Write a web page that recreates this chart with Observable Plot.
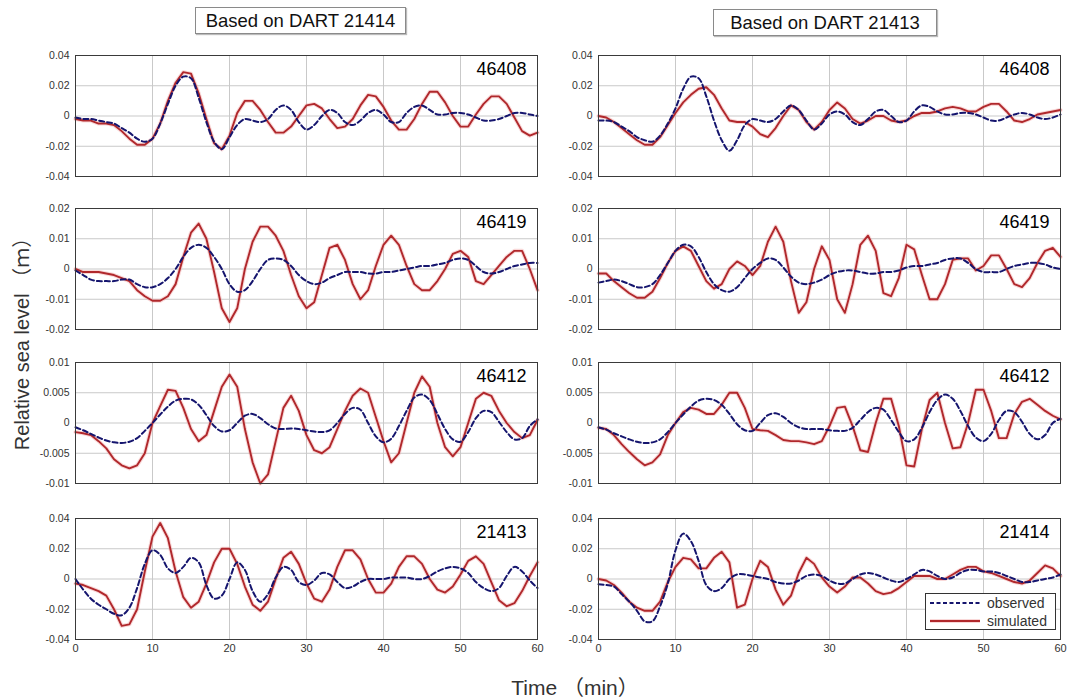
<!DOCTYPE html>
<html>
<head>
<meta charset="utf-8">
<script src="https://cdn.jsdelivr.net/npm/d3@7"></script>
<script src="https://cdn.jsdelivr.net/npm/@observablehq/plot@0.6"></script>
<style>
  html, body { margin: 0; padding: 0; background: #fff; }
  #root { position: relative; width: 1070px; height: 698px; overflow: hidden; font-family: "Liberation Sans", Arial, sans-serif; }
  .abs { position: absolute; }
  .title { border: 1px solid #8a8a8a; box-shadow: 1px 1px 1px #bbb; background: #fff; font-family: "Liberation Sans Narrow", "Liberation Sans", Arial, sans-serif; font-size: 18.5px; color: #111; text-align: center; box-sizing: border-box; }
  .legend { border: 1px solid #333; background: #fff; box-sizing: border-box; font-size: 14px; color: #333; }
</style>
</head>
<body>
<div id="root"></div>
<script>
// ---------- data ----------
const minutes = d3.range(0, 61);
const xTicks = [0, 10, 20, 30, 40, 50, 60];
const columnTitles = ["Based on DART 21414", "Based on DART 21413"];
const stationsLeft = ["46408", "46419", "46412", "21413"];
const stationsRight = ["46408", "46419", "46412", "21414"];
const yTicksRow1 = [-0.04, -0.02, 0, 0.02, 0.04];
const yTicksRow2 = [-0.02, -0.01, 0, 0.01, 0.02];
const yTicksRow3 = [-0.01, -0.005, 0, 0.005, 0.01];
const yTicksRow4 = [-0.04, -0.02, 0, 0.02, 0.04];
const seriesNames = ["observed", "simulated"];

// Row 1 — 46408
const obsL1 = [-0.001,-0.002,-0.002,-0.003,-0.004,-0.005,-0.008,-0.011,-0.015,-0.017,-0.015,-0.005,0.008,0.020,0.026,0.025,0.012,-0.004,-0.017,-0.022,-0.014,-0.006,-0.002,-0.003,-0.004,-0.002,0.004,0.007,0.004,-0.004,-0.009,-0.006,0.000,0.004,0.002,-0.004,-0.006,-0.003,0.002,0.004,0.001,-0.004,-0.004,0.002,0.006,0.007,0.004,0.001,0.001,0.002,0.002,0.001,-0.001,-0.003,-0.003,-0.002,0.000,0.002,0.002,0.001,0.000];
const simL1 = [-0.002,-0.003,-0.003,-0.005,-0.005,-0.006,-0.010,-0.015,-0.019,-0.019,-0.015,-0.005,0.010,0.022,0.029,0.028,0.015,-0.002,-0.018,-0.022,-0.013,0.002,0.010,0.010,0.004,-0.004,-0.011,-0.011,-0.007,0.000,0.007,0.008,0.005,-0.002,-0.008,-0.007,-0.002,0.007,0.014,0.013,0.006,-0.003,-0.009,-0.009,-0.002,0.008,0.016,0.016,0.009,0.000,-0.007,-0.007,0.001,0.008,0.013,0.013,0.008,-0.001,-0.010,-0.013,-0.011];
const obsR1 = [-0.003,-0.003,-0.004,-0.007,-0.010,-0.014,-0.016,-0.017,-0.013,-0.005,0.005,0.018,0.026,0.025,0.013,-0.003,-0.016,-0.023,-0.016,-0.006,-0.002,-0.003,-0.004,-0.002,0.003,0.007,0.004,-0.003,-0.009,-0.005,0.001,0.003,0.001,-0.004,-0.006,-0.002,0.003,0.004,0.000,-0.004,-0.003,0.003,0.007,0.006,0.003,0.001,0.001,0.002,0.002,0.001,-0.001,-0.003,-0.003,-0.001,0.001,0.002,0.001,-0.001,-0.002,-0.001,0.001];
const simR1 = [0.000,-0.001,-0.004,-0.008,-0.012,-0.016,-0.019,-0.019,-0.014,-0.006,0.002,0.009,0.014,0.018,0.019,0.014,0.005,-0.003,-0.004,-0.004,-0.007,-0.012,-0.014,-0.008,0.000,0.007,0.004,-0.004,-0.009,-0.004,0.004,0.009,0.005,-0.002,-0.005,-0.003,0.000,0.000,-0.003,-0.004,-0.003,0.000,0.002,0.002,0.003,0.005,0.006,0.005,0.003,0.003,0.006,0.008,0.008,0.003,-0.003,-0.004,-0.002,0.001,0.002,0.003,0.004];

// Row 2 — 46419
const obsL2 = [-0.0005,-0.002,-0.0035,-0.004,-0.004,-0.004,-0.0035,-0.0035,-0.005,-0.006,-0.006,-0.005,-0.003,0.000,0.004,0.007,0.008,0.007,0.004,0.000,-0.005,-0.0075,-0.007,-0.004,0.000,0.003,0.0035,0.003,0.001,-0.002,-0.004,-0.005,-0.0045,-0.003,-0.002,-0.001,-0.001,-0.001,-0.0015,-0.0015,-0.001,-0.001,-0.0005,0.000,0.0005,0.001,0.001,0.0015,0.002,0.003,0.0035,0.003,0.001,-0.001,-0.0015,-0.001,0.000,0.001,0.0015,0.002,0.002];
const simL2 = [0.000,-0.001,-0.001,-0.001,-0.0015,-0.002,-0.003,-0.004,-0.007,-0.009,-0.0105,-0.0105,-0.009,-0.005,0.004,0.012,0.015,0.010,-0.001,-0.013,-0.0175,-0.013,0.000,0.009,0.014,0.014,0.011,0.006,-0.002,-0.009,-0.013,-0.011,-0.002,0.007,0.008,0.003,-0.005,-0.010,-0.007,0.001,0.008,0.011,0.008,0.001,-0.005,-0.007,-0.007,-0.004,0.000,0.005,0.006,0.004,-0.004,-0.005,-0.002,0.001,0.004,0.006,0.006,0.000,-0.007];
const obsR2 = [-0.0045,-0.004,-0.0035,-0.004,-0.005,-0.006,-0.006,-0.005,-0.002,0.002,0.006,0.008,0.0075,0.004,-0.001,-0.005,-0.007,-0.0075,-0.006,-0.003,0.000,0.002,0.0035,0.003,0.0005,-0.0025,-0.0045,-0.005,-0.0045,-0.0035,-0.002,-0.001,-0.0005,-0.0005,-0.001,-0.0015,-0.0015,-0.001,-0.001,-0.0005,0.0005,0.001,0.001,0.0015,0.002,0.003,0.0035,0.0035,0.002,0.000,-0.001,-0.001,-0.001,0.000,0.001,0.0015,0.002,0.002,0.0015,0.0005,0.000];
const simR2 = [-0.0015,-0.0015,-0.004,-0.006,-0.008,-0.0095,-0.0095,-0.0075,-0.003,0.002,0.006,0.0075,0.006,0.001,-0.004,-0.0065,-0.005,0.000,0.0025,0.001,-0.002,0.001,0.009,0.014,0.009,-0.004,-0.0145,-0.011,0.000,0.0075,0.003,-0.010,-0.0145,-0.005,0.008,0.011,0.006,-0.008,-0.009,-0.003,0.008,0.0065,-0.002,-0.010,-0.010,-0.005,0.003,0.0035,0.0035,-0.0005,0.001,0.0045,0.0045,0.000,-0.005,-0.006,-0.003,0.002,0.006,0.007,0.004];

// Row 3 — 46412
const obsL3 = [-0.0007,-0.0012,-0.0018,-0.0024,-0.0029,-0.0032,-0.0033,-0.0031,-0.0025,-0.0013,0.000,0.0014,0.0027,0.0037,0.004,0.0039,0.003,0.0013,-0.0005,-0.0014,-0.0012,0.000,0.0012,0.0015,0.0008,-0.0002,-0.0009,-0.001,-0.0009,-0.001,-0.0012,-0.0014,-0.0015,-0.0012,0.000,0.0015,0.0025,0.0022,0.000,-0.0022,-0.0032,-0.0026,-0.0005,0.002,0.0042,0.0047,0.0038,0.0015,-0.001,-0.0027,-0.0031,-0.0015,0.0008,0.002,0.0018,0.0002,-0.0015,-0.0027,-0.0025,-0.0005,0.0006];
const simL3 = [-0.0015,-0.0017,-0.002,-0.003,-0.0042,-0.006,-0.007,-0.0075,-0.007,-0.005,0.000,0.0028,0.0055,0.0053,0.0025,-0.001,-0.003,-0.002,0.002,0.006,0.008,0.006,-0.001,-0.0065,-0.010,-0.0085,-0.003,0.0025,0.0045,0.002,-0.002,-0.0045,-0.005,-0.004,-0.001,0.002,0.0045,0.0057,0.005,0.001,-0.003,-0.0065,-0.005,0.000,0.005,0.0077,0.006,0.000,-0.004,-0.0055,-0.004,0.000,0.004,0.005,0.0045,0.002,0.000,-0.0015,-0.0025,-0.002,0.0005];
const obsR3 = [-0.0007,-0.0011,-0.0017,-0.0022,-0.0027,-0.0031,-0.0033,-0.0032,-0.0027,-0.0015,0.000,0.0014,0.0027,0.0037,0.004,0.0038,0.003,0.0015,-0.0002,-0.0012,-0.0013,0.000,0.0013,0.0016,0.001,0.000,-0.0007,-0.001,-0.001,-0.001,-0.0012,-0.0013,-0.0013,-0.0008,0.0005,0.0018,0.0025,0.0022,0.0005,-0.0015,-0.003,-0.0027,-0.0008,0.0018,0.0038,0.0047,0.004,0.002,-0.0005,-0.0024,-0.003,-0.0018,0.0005,0.002,0.0018,0.0002,-0.0018,-0.0027,-0.002,0.000,0.0007];
const simR3 = [-0.0008,-0.001,-0.002,-0.0035,-0.0048,-0.006,-0.007,-0.0065,-0.0052,-0.002,0.000,0.0018,0.0025,0.0022,0.0015,0.0015,0.003,0.005,0.005,0.0025,-0.001,-0.0012,-0.0013,-0.002,-0.0028,-0.003,-0.003,-0.0032,-0.0035,-0.003,-0.0005,0.0025,0.0027,-0.0005,-0.0045,-0.0048,0.000,0.004,0.004,-0.0005,-0.007,-0.0072,-0.001,0.0038,0.005,0.000,-0.0042,-0.004,0.000,0.0055,0.0055,0.002,-0.0025,-0.0025,0.0015,0.0035,0.004,0.003,0.002,0.0012,0.0006];

// Row 4 — 21413 (left), 21414 (right)
const obsL4 = [0.000,-0.007,-0.013,-0.017,-0.020,-0.023,-0.024,-0.019,-0.006,0.010,0.019,0.016,0.007,0.004,0.008,0.014,0.011,-0.004,-0.013,-0.011,0.000,0.011,0.006,-0.008,-0.015,-0.010,0.001,0.008,0.006,-0.002,-0.004,-0.001,0.004,0.003,-0.002,-0.006,-0.005,-0.002,0.000,0.000,0.000,0.001,0.001,0.001,0.000,0.000,0.002,0.005,0.007,0.008,0.007,0.004,-0.002,-0.006,-0.008,-0.006,0.002,0.008,0.005,-0.001,-0.006];
const simL4 = [-0.003,-0.004,-0.006,-0.008,-0.011,-0.020,-0.031,-0.030,-0.020,0.005,0.028,0.037,0.027,0.005,-0.012,-0.019,-0.015,-0.003,0.011,0.020,0.020,0.010,-0.005,-0.017,-0.021,-0.015,0.000,0.014,0.018,0.010,-0.003,-0.013,-0.015,-0.007,0.008,0.019,0.019,0.013,0.000,-0.009,-0.009,-0.003,0.008,0.015,0.015,0.010,0.000,-0.007,-0.009,-0.005,0.003,0.012,0.015,0.010,-0.002,-0.014,-0.018,-0.016,-0.008,0.002,0.011];
const obsR4 = [-0.0035,-0.004,-0.005,-0.010,-0.015,-0.021,-0.028,-0.028,-0.018,-0.003,0.019,0.030,0.025,0.012,-0.004,-0.008,-0.006,0.000,0.003,0.003,0.002,0.001,0.000,-0.002,-0.003,-0.003,-0.001,0.002,0.003,0.002,-0.001,-0.003,-0.003,0.000,0.003,0.004,0.003,0.001,-0.001,-0.002,0.000,0.003,0.006,0.005,0.002,0.000,0.001,0.004,0.006,0.006,0.005,0.005,0.004,0.002,0.000,-0.002,-0.002,-0.001,0.000,0.001,0.003];
const simR4 = [0.000,-0.001,-0.004,-0.009,-0.015,-0.019,-0.021,-0.021,-0.015,-0.002,0.008,0.014,0.013,0.007,0.007,0.014,0.018,0.011,-0.019,-0.017,0.000,0.012,0.008,-0.007,-0.017,-0.011,0.004,0.014,0.010,0.001,-0.005,-0.009,-0.005,0.001,0.001,-0.003,-0.008,-0.010,-0.009,-0.006,-0.002,0.002,0.002,0.002,0.000,0.000,0.003,0.006,0.008,0.008,0.005,0.004,0.002,0.000,-0.002,-0.003,-0.001,0.004,0.009,0.007,0.002];

// ---------- layout ----------
const root = document.getElementById("root");
const colors = {observed: "#15156e", simulated: "#b0282c"};
const rowTops = [55, 208, 362, 518];
const colLefts = [75, 598];
const plotW = 462, plotH = 121;
const mL = 44, mR = 4, mT = 4;

const panels = [
  {row: 0, col: 0, station: stationsLeft[0], ticks: yTicksRow1, obs: obsL1, sim: simL1},
  {row: 0, col: 1, station: stationsRight[0], ticks: yTicksRow1, obs: obsR1, sim: simR1},
  {row: 1, col: 0, station: stationsLeft[1], ticks: yTicksRow2, obs: obsL2, sim: simL2},
  {row: 1, col: 1, station: stationsRight[1], ticks: yTicksRow2, obs: obsR2, sim: simR2},
  {row: 2, col: 0, station: stationsLeft[2], ticks: yTicksRow3, obs: obsL3, sim: simL3},
  {row: 2, col: 1, station: stationsRight[2], ticks: yTicksRow3, obs: obsR3, sim: simR3},
  {row: 3, col: 0, station: stationsLeft[3], ticks: yTicksRow4, obs: obsL4, sim: simL4},
  {row: 3, col: 1, station: stationsRight[3], ticks: yTicksRow4, obs: obsR4, sim: simR4}
];

for (const p of panels) {
  const bottom = p.row === 3;
  const mB = bottom ? 24 : 4;
  const obsData = minutes.map((t, i) => ({t, v: p.obs[i]}));
  const simData = minutes.map((t, i) => ({t, v: p.sim[i]}));
  const marks = [
    Plot.gridY(p.ticks, {stroke: "#c9c9c9", strokeOpacity: 1}),
    Plot.gridX(xTicks.slice(1, -1), {stroke: "#c9c9c9", strokeOpacity: 1}),
    Plot.axisY(p.ticks, {tickSize: 0, tickPadding: 6, fontSize: 10.5, fill: "#333", label: null, tickFormat: d => String(d)})
  ];
  if (bottom) {
    marks.push(Plot.axisX(xTicks, {tickSize: 0, tickPadding: 5, fontSize: 11, fill: "#333", label: null,
      fontFamily: "'Liberation Sans Narrow', 'Liberation Sans', Arial, sans-serif", tickFormat: d => String(d)}));
  }
  marks.push(
    Plot.line(simData, {x: "t", y: "v", stroke: "#f2a8a8", strokeWidth: 4, strokeOpacity: 0.45}),
    Plot.line(simData, {x: "t", y: "v", stroke: colors.simulated, strokeWidth: 1.9}),
    Plot.line(obsData, {x: "t", y: "v", stroke: colors.observed, strokeWidth: 2, strokeDasharray: "5,3", curve: "catmull-rom"}),
    Plot.frame({stroke: "#3a3a3a", strokeWidth: 1}),
    Plot.text([p.station], {text: d => d, frameAnchor: "top-right", dx: -11, dy: 7, fontSize: 18, fill: "#000", fontWeight: 500})
  );
  const chart = Plot.plot({
    width: mL + plotW + mR,
    height: mT + plotH + mB,
    marginLeft: mL, marginRight: mR, marginTop: mT, marginBottom: mB,
    x: {domain: [0, 60], label: null, ...(bottom ? {} : {axis: null})},
    y: {domain: [p.ticks[0], p.ticks[p.ticks.length - 1]], label: null},
    style: {background: "transparent", fontFamily: "'Liberation Sans', Arial, sans-serif", overflow: "visible"},
    marks
  });
  chart.classList.add("abs");
  chart.style.left = (colLefts[p.col] - mL) + "px";
  chart.style.top = (rowTops[p.row] - mT) + "px";
  root.appendChild(chart);
}

// column titles
const titleBoxes = [{left: 195, top: 7, width: 211, height: 27}, {left: 713, top: 9, width: 224, height: 27}];
columnTitles.forEach((t, i) => {
  const d = document.createElement("div");
  d.className = "abs title";
  const b = titleBoxes[i];
  Object.assign(d.style, {left: b.left + "px", top: b.top + "px", width: b.width + "px", height: b.height + "px", lineHeight: (b.height - 2) + "px"});
  d.textContent = t;
  root.appendChild(d);
});

// axis titles
const yLab = document.createElement("div");
yLab.className = "abs";
Object.assign(yLab.style, {left: "20px", top: "339px", transform: "translate(-50%, -50%) rotate(-90deg)", whiteSpace: "nowrap",
  fontSize: "20px", color: "#333", fontFamily: "'Liberation Sans', Arial, 'Noto Sans CJK SC', sans-serif"});
yLab.textContent = "Relative sea level （ｍ）";
root.appendChild(yLab);

const xLab = document.createElement("div");
xLab.className = "abs";
Object.assign(xLab.style, {left: "575px", top: "686px", transform: "translate(-50%, -50%)", whiteSpace: "nowrap",
  fontSize: "21px", color: "#333", fontFamily: "'Liberation Sans Narrow', 'Liberation Sans', Arial, 'Noto Sans CJK SC', sans-serif"});
xLab.textContent = "Time （min）";
root.appendChild(xLab);

// legend
const leg = document.createElement("div");
leg.className = "abs legend";
Object.assign(leg.style, {left: "925px", top: "593px", width: "131px", height: "37px"});
const legSvg = d3.create("svg").attr("width", 129).attr("height", 35).style("position", "absolute").style("left", "0px").style("top", "0px");
seriesNames.forEach((name, i) => {
  const y = 9 + i * 18;
  if (name === "simulated") {
    legSvg.append("line").attr("x1", 4).attr("x2", 54).attr("y1", y).attr("y2", y).attr("stroke", "#f2a8a8").attr("stroke-width", 4).attr("stroke-opacity", 0.45);
  }
  legSvg.append("line").attr("x1", 4).attr("x2", 54).attr("y1", y).attr("y2", y)
    .attr("stroke", colors[name]).attr("stroke-width", 2).attr("stroke-dasharray", name === "observed" ? "4,2.5" : null);
  legSvg.append("text").attr("x", 61).attr("y", y + 5).attr("font-size", 14).attr("fill", "#333")
    .attr("font-family", "'Liberation Sans', Arial, sans-serif").text(name);
});
leg.appendChild(legSvg.node());
root.appendChild(leg);
</script>
</body>
</html>
